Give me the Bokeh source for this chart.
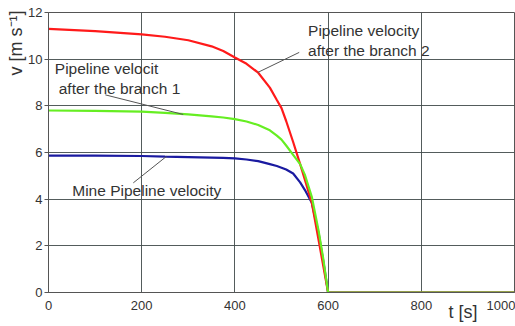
from bokeh.plotting import figure
from bokeh.models import Range1d, FixedTicker, Label, Title
from bokeh.embed import file_html
from bokeh.resources import INLINE

# time axis [s]
t = [0, 100, 200, 250, 300, 350, 375, 400, 425, 450, 475, 490, 500, 510, 525, 540, 550, 565, 580, 590, 600, 1000]
# velocities [m/s]
v_branch2 = [11.3, 11.2, 11.06, 10.96, 10.81, 10.55, 10.35, 10.07, 9.8, 9.42, 8.78, 8.25, 7.9, 7.35, 6.45, 5.5, 4.85, 3.85, 2.2, 1.1, 0.0, 0.0]
v_branch1 = [7.8, 7.78, 7.75, 7.7, 7.63, 7.55, 7.5, 7.43, 7.33, 7.18, 6.95, 6.72, 6.55, 6.3, 5.9, 5.5, 5.05, 4.1, 2.6, 1.4, 0.0, 0.0]
v_mine = [5.87, 5.87, 5.85, 5.82, 5.8, 5.78, 5.77, 5.75, 5.7, 5.63, 5.5, 5.42, 5.35, 5.27, 5.1, 4.72, 4.4, 3.85, 2.5, 1.3, 0.0, 0.0]

x_ticks = [0, 200, 400, 600, 800, 1000]
y_ticks = [0, 2, 4, 6, 8, 10, 12]
x_title = "t [s]"
y_title = "v [m s\u207b\u00b9]"

# annotation texts and positions (data units)
lab_b2 = ["Pipeline velocity", "after the branch 2"]
lab_b2_t = [557, 557]
lab_b2_v = [11.23, 10.37]
lead_b2 = ([538, 10.29], [449, 9.43])

lab_b1 = ["Pipeline velocit", "after the branch 1"]
lab_b1_t = [13.5, 22]
lab_b1_v = [9.6, 8.74]
lead_b1 = ([122, 8.47], [289, 7.63])

lab_mine = ["Mine Pipeline velocity"]
lab_mine_t = [51]
lab_mine_v = [4.36]
lead_mine = ([182, 4.70], [253, 5.83])

FONT = "Liberation Sans"
TXT = "#333333"

p = figure(width=515, height=326, output_backend="svg", toolbar_location=None,
           x_range=Range1d(0, 1000), y_range=Range1d(0, 12),
           min_border_left=48, min_border_right=1, min_border_top=12, min_border_bottom=34)
p.background_fill_color = "white"
p.border_fill_color = "white"
p.outline_line_color = "#555555"
p.outline_line_width = 1

p.xaxis.ticker = FixedTicker(ticks=x_ticks)
p.yaxis.ticker = FixedTicker(ticks=y_ticks)
p.xgrid.ticker = FixedTicker(ticks=x_ticks)
p.ygrid.ticker = FixedTicker(ticks=y_ticks)
for g in (p.xgrid, p.ygrid):
    g.grid_line_color = "#404a4a"
    g.grid_line_width = 1
    g.grid_line_alpha = 0.9

for ax in (p.xaxis, p.yaxis):
    ax.axis_line_color = "#555555"
    ax.major_tick_line_color = "#555555"
    ax.minor_tick_line_color = None
    ax.major_label_text_font = FONT
    ax.major_label_text_font_size = "13px"
    ax.major_label_text_color = TXT
    ax.major_tick_in = 0
p.xaxis.major_tick_out = 0
p.xaxis.major_label_standoff = 8
p.yaxis.major_tick_out = 4
p.yaxis.major_label_standoff = 2

# axis titles as side titles
p.add_layout(Title(text=y_title, align="right", offset=-2, standoff=0,
                   text_font=FONT, text_font_size="18px", text_font_style="normal",
                   text_color=TXT), "left")
p.add_layout(Title(text=x_title, align="right", offset=37, standoff=-22, vertical_align="top",
                   text_font=FONT, text_font_size="18px", text_font_style="normal",
                   text_color=TXT), "below")

p.line(t, v_mine, line_color="#1a1aa0", line_width=2.2)
p.line(t, v_branch2, line_color="#ff1a1a", line_width=2.2)
p.line(t, v_branch1, line_color="#66ee22", line_width=2.2)

# leader lines
for (a, b) in (lead_b2, lead_b1, lead_mine):
    p.segment(x0=[a[0]], y0=[a[1]], x1=[b[0]], y1=[b[1]], line_color="#555555", line_width=1)

for texts, xs, ys in ((lab_b2, lab_b2_t, lab_b2_v), (lab_b1, lab_b1_t, lab_b1_v),
                      (lab_mine, lab_mine_t, lab_mine_v)):
    for s, xx, yy in zip(texts, xs, ys):
        p.add_layout(Label(x=xx, y=yy, text=s, text_font=FONT, text_font_size="15.5px",
                           text_color=TXT, text_align="left", text_baseline="middle"))

open("out.html", "w").write(file_html(p, INLINE))
